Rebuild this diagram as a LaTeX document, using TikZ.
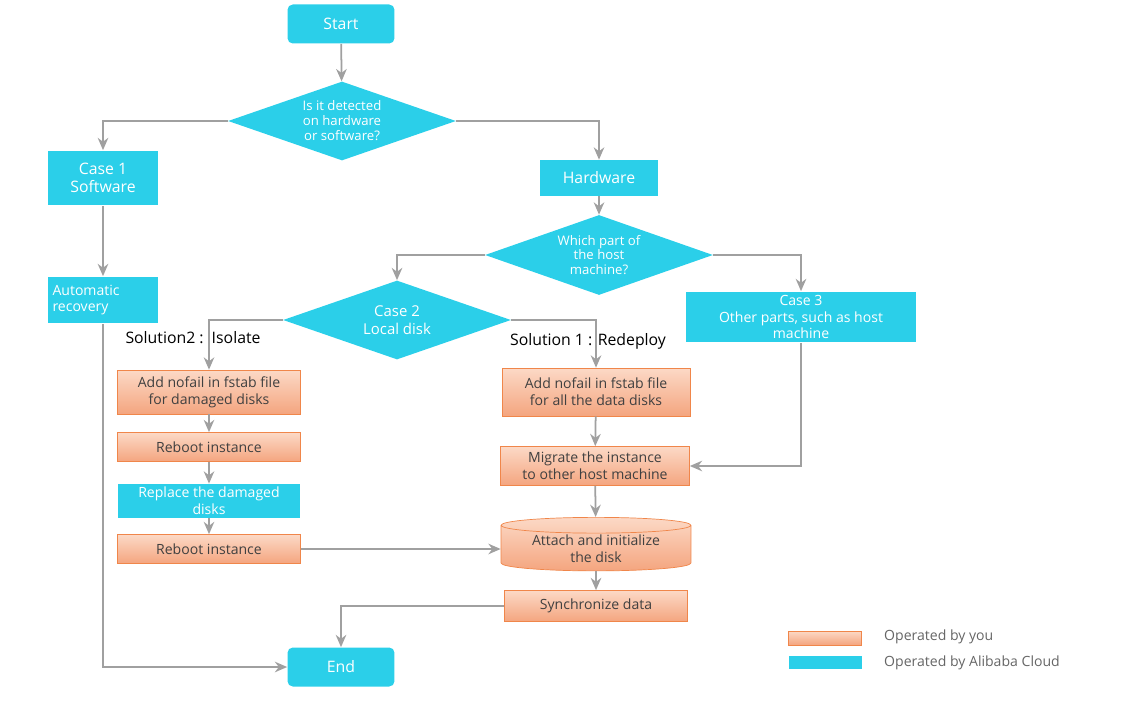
\documentclass[tikz,border=0pt]{standalone}
\usepackage{fontspec}
\setmainfont{Open Sans}
\usetikzlibrary{shapes.geometric,arrows.meta}
\definecolor{aliblue}{HTML}{2BCFE9}
\definecolor{youline}{HTML}{F0864A}
\definecolor{youtop}{HTML}{FCD9C6}
\definecolor{youbot}{HTML}{F4A57F}
\definecolor{flow}{HTML}{A0A0A0}
\tikzset{
  ali/.style={fill=aliblue, text=white, inner sep=1pt, align=center, font=\fontsize{9}{10}\selectfont},
  you/.style={draw=youline, top color=youtop, bottom color=youbot, text=black!75, inner sep=1pt, align=center, font=\fontsize{8}{9.5}\selectfont},
  ask/.style={diamond, aspect=2.9, ali, inner sep=0pt, font=\fontsize{7.5}{8.5}\selectfont},
  flw/.style={draw=flow, line width=1pt, -{Stealth[length=7pt,width=6pt]}},
}
\begin{document}
\begin{tikzpicture}[x=0.02cm, y=-0.02cm]
  \useasboundingbox (0,0) rectangle (1138,702);
  \node[ali, rounded corners=3pt, minimum width=2.14cm, minimum height=0.78cm] (start) at (341,24) {Start};
  \node[ask, minimum width=4.56cm, minimum height=1.58cm] (detect) at (342,121) {Is it detected\\on hardware\\or software?};
  \node[ali, minimum width=2.2cm, minimum height=1.1cm] (soft) at (103,178) {Case 1\\Software};
  \node[ali, minimum width=2.36cm, minimum height=0.72cm] (hard) at (599,178) {Hardware};
  \node[ask, minimum width=4.56cm, minimum height=1.6cm] (which) at (599,255) {Which part of\\the host\\machine?};
  \node[ali, minimum width=2.2cm, minimum height=0.94cm, align=left, font=\fontsize{8}{9.5}\selectfont] (auto) at (103,300) {Automatic\\recovery\hspace*{0.9cm}};
  \node[ask, minimum width=4.56cm, minimum height=1.58cm, font=\fontsize{8.5}{10}\selectfont] (local) at (397,320) {Case 2\\Local disk};
  \node[ali, minimum width=4.6cm, minimum height=1.02cm, font=\fontsize{8}{9.5}\selectfont] (other) at (801,317) {Case 3\\Other parts, such as host\\machine};
  \node[font=\fontsize{9}{10}\selectfont] (sol2) at (193,338) {Solution2 :\, Isolate};
  \node[font=\fontsize{9}{10}\selectfont] (sol1) at (588,341) {Solution 1 : Redeploy};
  % left column
  \node[you, minimum width=3.66cm, minimum height=0.88cm] (nofail2) at (209,392) {Add nofail in fstab file\\for damaged disks};
  \node[you, minimum width=3.66cm, minimum height=0.58cm] (boot1) at (209,447) {Reboot instance};
  \node[ali, minimum width=3.66cm, minimum height=0.68cm, font=\fontsize{8}{9.5}\selectfont] (replace) at (209,501) {Replace the damaged\\disks};
  \node[you, minimum width=3.66cm, minimum height=0.58cm] (boot2) at (209,549) {Reboot instance};
  % right column
  \node[you, minimum width=3.76cm, minimum height=0.96cm] (nofail1) at (596,392) {Add nofail in fstab file\\for all the data disks};
  \node[you, minimum width=3.78cm, minimum height=0.78cm] (migrate) at (595,466) {Migrate the instance\\to other host machine};
  \node[you, cylinder, shape border rotate=90, aspect=0.12, minimum width=3.8cm, minimum height=0.86cm] (attach) at (596,549) {Attach and initialize\\the disk};
  \node[you, minimum width=3.66cm, minimum height=0.62cm] (sync) at (596,606) {Synchronize data};
  \node[ali, rounded corners=3pt, minimum width=2.14cm, minimum height=0.78cm] (end) at (341,667) {End};
  % legend
  \node[you, minimum width=1.46cm, minimum height=0.28cm] (keyyou) at (825,638) {};
  \node[ali, minimum width=1.46cm, minimum height=0.26cm] (keyali) at (825,662) {};
  \node[anchor=west, text=black!60, font=\fontsize{8}{9.5}\selectfont] at (878,637) {Operated by you};
  \node[anchor=west, text=black!60, font=\fontsize{8}{9.5}\selectfont] at (878,663) {Operated by Alibaba Cloud};
  % connectors
  \draw[flw] (start) -- (detect);
  \draw[flw] (detect.west) -| (soft);
  \draw[flw] (detect.east) -| (hard);
  \draw[flw] (soft) -- (auto);
  \draw[flw] (auto.south) |- (end.west);
  \draw[flw] (hard) -- (which);
  \draw[flw] (which.west) -| (local.north);
  \draw[flw] (which.east) -| (other);
  \draw[flw] (local.west) -| (nofail2);
  \draw[flw] (local.east) -| (nofail1);
  \draw[flw] (nofail2) -- (boot1);
  \draw[flw] (boot1) -- (replace);
  \draw[flw] (replace) -- (boot2);
  \draw[flw] (boot2) -- (attach);
  \draw[flw] (nofail1) -- (migrate);
  \draw[flw] (other.south) |- (migrate.east);
  \draw[flw] (migrate) -- (attach);
  \draw[flw] (attach) -- (sync);
  \draw[flw] (sync.west) -| (end.north);
\end{tikzpicture}
\end{document}
